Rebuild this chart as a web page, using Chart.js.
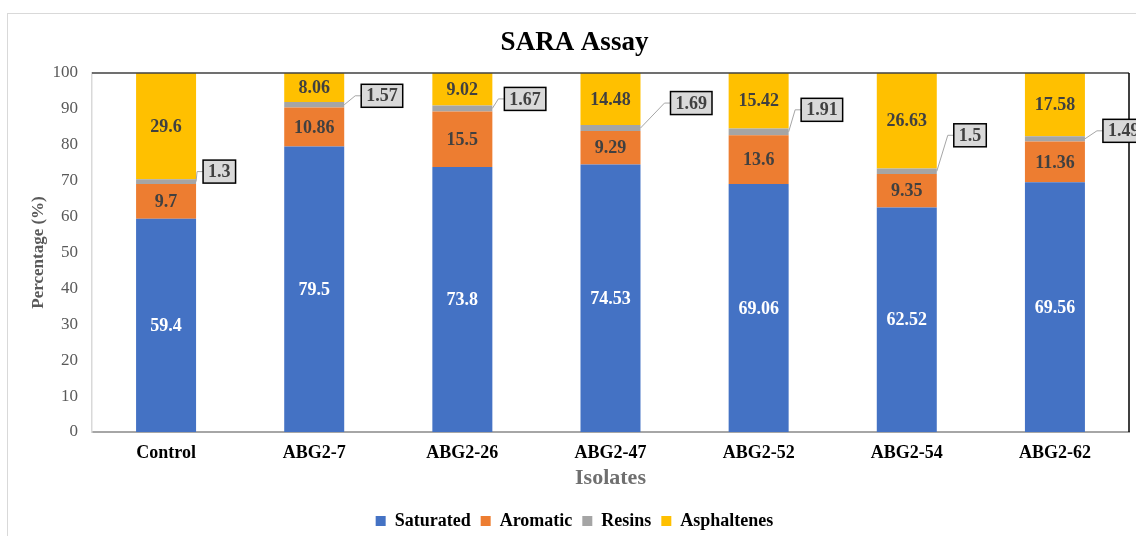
<!DOCTYPE html>
<html>
<head>
<meta charset="utf-8">
<script src="https://cdn.jsdelivr.net/npm/chart.js@4"></script>
<style>
  html, body { margin: 0; padding: 0; background: #ffffff; }
  canvas { display: block; }
</style>
</head>
<body>
<canvas id="c" width="1136" height="536"></canvas>
<script>
const categories = ['Control', 'ABG2-7', 'ABG2-26', 'ABG2-47', 'ABG2-52', 'ABG2-54', 'ABG2-62'];
const saturated   = [59.4, 79.5, 73.8, 74.53, 69.06, 62.52, 69.56];
const aromatic    = [9.7, 10.86, 15.5, 9.29, 13.6, 9.35, 11.36];
const resins      = [1.3, 1.57, 1.67, 1.69, 1.91, 1.5, 1.49];
const asphaltenes = [29.6, 8.06, 9.02, 14.48, 15.42, 26.63, 17.58];
const seriesNames = ['Saturated', 'Aromatic', 'Resins', 'Asphaltenes'];

const FAMILY = '"Liberation Serif", "Times New Roman", serif';

const saraPlugin = {
  id: 'sara',
  beforeDraw(chart) {
    const ctx = chart.ctx;
    ctx.save();
    ctx.fillStyle = '#ffffff';
    ctx.fillRect(0, 0, chart.width, chart.height);
    ctx.strokeStyle = '#d9d9d9';
    ctx.lineWidth = 1;
    ctx.strokeRect(7.5, 13.5, chart.width + 20, chart.height + 20);
    ctx.restore();
  },
  afterDatasetsDraw(chart, args, opts) {
    const ctx = chart.ctx;
    const a = chart.chartArea;
    ctx.save();
    ctx.lineWidth = 1.5;
    ctx.strokeStyle = '#404040';
    ctx.beginPath(); ctx.moveTo(a.left, a.top); ctx.lineTo(a.right, a.top); ctx.stroke();
    ctx.strokeStyle = '#000000';
    ctx.beginPath(); ctx.moveTo(a.right, a.top); ctx.lineTo(a.right, a.bottom); ctx.stroke();

    ctx.font = 'bold 18px ' + FAMILY;
    ctx.textAlign = 'center';
    ctx.textBaseline = 'middle';
    chart.data.datasets.forEach((ds, di) => {
      const meta = chart.getDatasetMeta(di);
      meta.data.forEach((bar, i) => {
        const p = bar.getProps(['x', 'y', 'base', 'width'], true);
        const cy = (p.y + p.base) / 2;
        const txt = String(ds.data[i]);
        if (di === 2) {
          const off = opts.offsets[i];
          const right = p.x + p.width / 2;
          const bx = right + off[0];
          const by = cy + off[1];
          const tw = ctx.measureText(txt).width;
          const bw = tw + 10, bh = 23;
          ctx.strokeStyle = '#a6a6a6';
          ctx.lineWidth = 1;
          ctx.beginPath(); ctx.moveTo(right, cy); ctx.lineTo(bx - 6, by); ctx.lineTo(bx, by); ctx.stroke();
          ctx.fillStyle = '#d9d9d9';
          ctx.fillRect(bx, by - bh / 2, bw, bh);
          ctx.strokeStyle = '#000000';
          ctx.lineWidth = 1.5;
          ctx.strokeRect(bx, by - bh / 2, bw, bh);
          ctx.fillStyle = '#404040';
          ctx.fillText(txt, bx + bw / 2, by + 1);
        } else {
          ctx.fillStyle = di === 0 ? '#ffffff' : '#404040';
          ctx.fillText(txt, p.x, cy + 1);
        }
      });
    });
    ctx.restore();
  }
};

const colors = ['#4472C4', '#ED7D31', '#A5A5A5', '#FFC000'];
const values = [saturated, aromatic, resins, asphaltenes];

new Chart(document.getElementById('c').getContext('2d'), {
  type: 'bar',
  data: {
    labels: categories,
    datasets: seriesNames.map((n, k) => ({
      label: n,
      data: values[k],
      backgroundColor: colors[k],
      borderColor: colors[k],
      borderWidth: 0
    }))
  },
  options: {
    responsive: false,
    animation: false,
    layout: { padding: { left: 20, right: 7, top: 0, bottom: -4 } },
    datasets: { bar: { categoryPercentage: 0.405, barPercentage: 1 } },
    scales: {
      x: {
        stacked: true,
        grid: { display: false },
        border: { display: true, color: '#a6a6a6', width: 2 },
        ticks: { color: '#000000', font: { family: FAMILY, size: 18, weight: 'bold' }, padding: 3, maxRotation: 0 },
        title: { display: true, text: 'Isolates', color: '#6f6f6f', font: { family: FAMILY, size: 22, weight: 'bold' }, padding: { top: 0, bottom: 10.8 } },
        afterFit(s) { s.height = 70; }
      },
      y: {
        stacked: true,
        min: 0,
        max: 100,
        ticks: { stepSize: 10, color: '#595959', font: { family: FAMILY, size: 17 }, padding: 6 },
        grid: { display: false },
        border: { display: true, color: '#d9d9d9', width: 1.5 },
        title: { display: true, text: 'Percentage (%)', color: '#595959', font: { family: FAMILY, size: 17, weight: 'bold' }, padding: { top: 8.8, bottom: 0 } },
        afterFit(s) { s.width = 72; }
      }
    },
    plugins: {
      title: { display: true, text: 'SARA Assay', color: '#000000', font: { family: FAMILY, size: 27, weight: 'bold' }, padding: { top: 26.8, bottom: 13.8 } },
      legend: {
        position: 'bottom',
        labels: { boxWidth: 10, boxHeight: 10, color: '#000000', font: { family: FAMILY, size: 18, weight: 'bold' }, padding: 10 }
      },
      tooltip: { enabled: false },
      sara: { offsets: [[7, -10], [17, -9], [12, -9.5], [30, -25], [12.5, -22], [17, -36], [18, -8]] }
    }
  },
  plugins: [saraPlugin]
});
</script>
</body>
</html>
